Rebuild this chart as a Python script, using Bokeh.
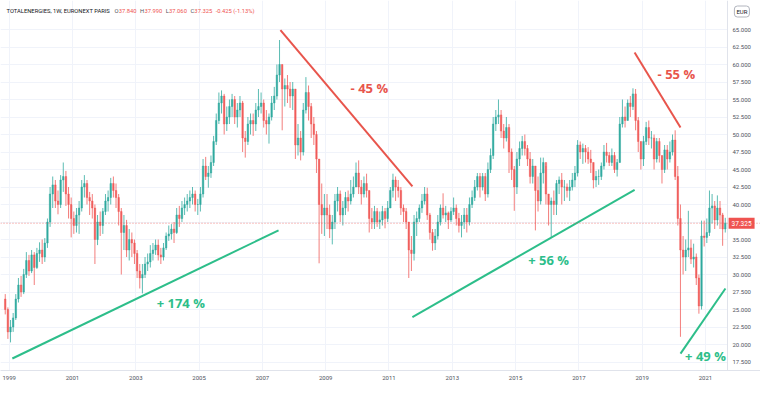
from bokeh.plotting import figure
from bokeh.models import ColumnDataSource, Range1d, FixedTicker, NumeralTickFormatter, Span, Label, BoxAnnotation
from bokeh.core.properties import value
from bokeh.embed import file_html
from bokeh.resources import INLINE

# ---------------- data (monthly candles) ----------------
first_year, first_month = 1998, 11
first_open = 26.5

close = [
    25.0, 21.8,                                                          # 1998 Nov-Dec
    22.5, 23.8, 26.5, 28.5, 27.5, 30.0, 32.0, 30.5, 32.8, 31.0, 33.0, 33.5,  # 1999
    32.5, 34.5, 37.5, 41.5, 42.8, 40.5, 40.0, 43.5, 44.0, 41.5, 40.0, 38.0,  # 2000
    37.0, 38.5, 39.5, 42.5, 43.0, 41.0, 40.5, 39.5, 35.0, 37.5, 37.0, 39.0,  # 2001
    40.5, 41.0, 43.0, 42.0, 41.0, 39.0, 36.0, 37.0, 33.5, 35.0, 34.5, 33.0,  # 2002
    30.5, 29.5, 30.0, 31.5, 31.8, 33.0, 33.5, 34.2, 32.8, 32.5, 33.8, 35.5,  # 2003
    35.8, 36.5, 36.0, 38.5, 38.0, 39.5, 40.0, 40.5, 41.0, 41.5, 40.0, 40.0,  # 2004
    41.5, 45.5, 44.0, 44.5, 46.0, 49.0, 52.0, 54.5, 55.5, 51.5, 52.5, 54.0,  # 2005
    55.0, 52.5, 53.5, 54.5, 49.5, 49.0, 51.5, 52.0, 51.5, 53.5, 54.0, 54.5,  # 2006
    52.0, 51.5, 52.5, 54.5, 55.5, 58.5, 60.0, 56.5, 57.0, 56.5, 55.5, 56.5,  # 2007
    48.5, 49.5, 47.5, 53.5, 56.0, 54.0, 51.5, 50.0, 46.5, 40.0, 38.5, 39.5,  # 2008
    38.5, 36.5, 37.5, 40.5, 41.5, 38.5, 39.5, 41.0, 40.5, 41.5, 42.5, 44.5,  # 2009
    42.5, 41.5, 43.0, 42.0, 38.0, 37.5, 39.0, 37.5, 37.8, 39.0, 38.0, 39.5,  # 2010
    42.0, 43.5, 42.5, 42.0, 39.5, 39.0, 37.5, 33.5, 33.0, 37.5, 38.0, 39.5,  # 2011
    40.5, 41.5, 38.5, 36.0, 34.5, 35.5, 37.5, 39.5, 38.5, 38.8, 37.8, 39.0,  # 2012
    39.5, 38.0, 37.0, 37.5, 38.5, 37.5, 40.0, 41.0, 42.5, 44.0, 42.5, 44.0,  # 2013
    41.5, 45.0, 47.0, 51.5, 52.5, 52.8, 50.5, 49.5, 51.0, 47.5, 45.0, 42.5,  # 2014
    46.5, 48.0, 49.0, 48.0, 46.5, 44.0, 45.5, 42.0, 40.5, 44.5, 46.0, 41.5,  # 2015
    40.0, 40.5, 40.0, 43.0, 43.5, 42.5, 42.5, 42.0, 42.5, 43.5, 44.5, 48.5,  # 2016
    47.5, 48.0, 47.5, 46.5, 46.0, 43.5, 44.0, 44.0, 45.5, 47.5, 47.0, 46.0,  # 2017
    47.0, 45.0, 46.0, 51.5, 52.5, 52.0, 54.5, 54.0, 55.8, 52.0, 49.0, 46.5,  # 2018
    49.0, 51.0, 49.5, 49.5, 46.5, 49.0, 47.0, 45.0, 47.8, 46.5, 47.5, 49.2,  # 2019
    44.0, 38.0, 33.5, 32.5, 33.5, 33.8, 32.2, 32.5, 29.5, 25.5, 35.5, 35.3,  # 2020
    36.0, 39.5, 39.8, 37.8, 39.5, 38.5, 36.5, 37.325,                    # 2021 Jan-Aug
]
high = [
    27.2, 25.3,
    23.5, 24.5, 27.2, 29.5, 29.8, 30.8, 33.2, 32.8, 33.5, 33.2, 33.8, 34.6,
    35.0, 35.2, 38.0, 42.5, 44.0, 43.5, 42.0, 44.2, 46.0, 44.8, 42.5, 41.0,
    39.0, 39.5, 40.5, 43.5, 44.2, 43.5, 41.8, 41.5, 40.0, 38.5, 39.0, 39.5,
    41.5, 42.0, 43.8, 44.0, 43.0, 41.5, 39.5, 38.5, 37.8, 36.5, 36.0, 35.0,
    33.5, 31.5, 31.5, 32.5, 33.0, 34.2, 34.5, 35.0, 35.0, 33.8, 34.5, 36.0,
    37.0, 37.2, 37.5, 39.5, 39.8, 40.5, 41.0, 41.5, 42.0, 42.5, 42.0, 40.8,
    42.5, 46.5, 46.8, 45.5, 47.0, 49.8, 53.0, 56.0, 56.3, 55.8, 54.0, 55.0,
    55.8, 55.5, 54.5, 55.5, 54.8, 50.5, 52.5, 53.0, 53.0, 54.5, 56.5, 56.0,
    55.0, 53.5, 53.0, 55.5, 56.8, 60.0, 63.5, 60.0, 58.0, 58.5, 57.5, 57.5,
    56.5, 51.5, 50.5, 54.5, 58.2, 57.0, 54.5, 52.5, 50.5, 46.5, 43.0, 41.5,
    41.5, 40.0, 38.5, 41.5, 42.5, 42.0, 40.5, 41.8, 42.0, 43.5, 44.0, 46.0,
    46.3, 43.5, 44.0, 44.4, 42.0, 39.5, 39.8, 39.5, 39.0, 39.8, 39.5, 40.5,
    42.5, 44.4, 44.0, 43.5, 42.5, 40.0, 39.5, 37.5, 35.5, 38.5, 39.0, 40.0,
    41.5, 42.5, 42.4, 38.8, 36.5, 36.5, 38.5, 40.0, 41.6, 39.8, 39.0, 39.6,
    41.0, 40.0, 38.8, 38.5, 39.5, 39.5, 41.0, 42.0, 43.5, 44.5, 44.5, 44.5,
    44.5, 46.0, 48.0, 52.5, 53.5, 55.0, 53.5, 51.5, 52.5, 51.5, 48.0, 45.5,
    47.5, 49.0, 49.8, 50.0, 48.5, 47.5, 46.5, 45.5, 44.0, 46.7, 46.7, 45.5,
    41.5, 41.0, 42.0, 43.5, 44.0, 44.5, 43.5, 43.0, 43.5, 44.5, 45.5, 49.2,
    49.0, 48.7, 48.5, 48.2, 47.8, 46.0, 44.8, 45.0, 46.0, 48.5, 48.8, 47.5,
    48.0, 47.5, 46.5, 52.5, 55.0, 54.0, 55.0, 55.5, 56.6, 56.5, 52.5, 49.0,
    49.8, 51.8, 52.0, 50.5, 50.0, 49.5, 49.5, 47.0, 48.5, 48.5, 49.0, 50.0,
    50.6, 45.5, 40.0, 35.5, 35.0, 39.1, 35.0, 34.4, 33.0, 30.0, 37.7, 37.7,
    38.0, 42.0, 41.5, 40.5, 41.3, 40.5, 38.8, 38.1,
]
low = [
    24.3, 20.8,
    20.3, 21.8, 23.5, 26.0, 26.8, 27.2, 29.5, 29.8, 30.2, 28.5, 30.8, 31.8,
    31.5, 31.8, 33.8, 36.8, 39.5, 39.5, 38.6, 39.5, 41.8, 39.8, 38.0, 35.3,
    35.8, 36.0, 35.8, 39.0, 41.0, 40.0, 38.5, 38.0, 31.5, 34.2, 35.5, 35.8,
    38.5, 39.0, 40.0, 41.0, 39.5, 37.0, 30.0, 33.5, 32.5, 32.0, 32.5, 31.5,
    29.5, 28.0, 27.3, 29.5, 30.5, 31.0, 32.0, 32.8, 32.0, 31.5, 32.0, 33.5,
    34.8, 35.0, 34.5, 35.8, 36.8, 37.5, 38.5, 39.0, 39.5, 40.0, 39.0, 38.5,
    39.0, 41.0, 43.5, 42.4, 43.8, 45.5, 48.5, 51.5, 53.0, 50.0, 50.5, 51.5,
    52.5, 51.5, 51.0, 52.5, 47.5, 46.7, 48.5, 50.0, 49.8, 50.5, 52.5, 53.0,
    51.0, 50.0, 48.7, 52.0, 53.5, 55.0, 57.5, 50.6, 54.0, 54.5, 53.8, 53.5,
    46.5, 47.0, 46.3, 47.0, 53.0, 52.0, 49.5, 48.5, 44.5, 31.6, 35.8, 35.5,
    36.5, 35.2, 34.3, 36.5, 39.0, 37.5, 37.0, 38.5, 39.0, 40.0, 41.0, 42.5,
    41.5, 40.0, 41.0, 41.0, 36.0, 36.5, 36.5, 36.8, 36.5, 37.0, 36.6, 37.5,
    39.5, 41.0, 40.5, 41.0, 38.5, 37.5, 36.5, 29.5, 30.5, 32.0, 35.5, 37.5,
    38.8, 40.0, 37.8, 35.0, 33.4, 33.5, 35.0, 37.0, 38.0, 37.5, 36.5, 37.5,
    38.5, 37.0, 36.0, 35.3, 36.5, 36.0, 37.0, 39.5, 40.5, 42.0, 41.0, 42.0,
    40.5, 41.0, 44.5, 46.5, 50.5, 51.5, 49.5, 48.0, 49.0, 44.5, 43.5, 39.1,
    41.5, 45.5, 47.0, 47.0, 45.5, 43.0, 43.0, 36.3, 39.0, 40.0, 43.0, 40.0,
    37.0, 35.3, 38.5, 38.5, 41.5, 40.0, 40.5, 41.0, 40.5, 42.0, 42.5, 44.0,
    46.5, 45.8, 46.0, 45.8, 44.5, 42.3, 42.5, 42.8, 43.5, 45.0, 46.0, 45.5,
    45.5, 44.5, 44.0, 46.0, 51.0, 51.0, 52.0, 52.5, 53.5, 50.6, 47.5, 45.0,
    45.5, 48.5, 48.5, 48.0, 45.0, 46.0, 46.0, 43.0, 44.5, 45.0, 46.0, 47.0,
    43.5, 37.0, 21.1, 30.0, 30.5, 32.5, 31.5, 31.0, 28.5, 24.4, 25.0, 34.0,
    34.5, 35.5, 37.3, 36.5, 37.0, 36.5, 34.1, 36.0,
]

year_ticks = [1999, 2001, 2003, 2005, 2007, 2009, 2011, 2013, 2015, 2017, 2019, 2021]
price_ticks = [17.5, 20.0, 22.5, 25.0, 27.5, 30.0, 32.5, 35.0, 37.5, 40.0, 42.5,
               45.0, 47.5, 50.0, 52.5, 55.0, 57.5, 60.0, 62.5, 65.0]

# trend-line drawings (decimal year, price)
trend_x0 = [1999.10, 2007.57, 2011.74, 2018.76, 2020.21]
trend_y0 = [18.0, 64.9, 23.9, 61.7, 18.7]
trend_x1 = [2007.51, 2011.74, 2018.76, 2020.21, 2021.63]
trend_y1 = [36.3, 42.6, 42.1, 51.0, 28.0]
trend_kind = ["up", "down", "up", "down", "up"]

note_text = ["+ 174 %", "- 45 %", "+ 56 %", "- 55 %", "+ 49 %"]
note_x = [2004.42, 2010.38, 2016.04, 2020.08, 2021.00]
note_y = [25.9, 56.6, 32.1, 58.6, 18.3]
note_kind = ["up", "down", "up", "down", "up"]

last_price = 37.325
header_parts = [("TOTALENERGIES, 1W, EURONEXT PARIS", "#131722"), ("O", "#50535e"), ("37.840", "#ef5350"),
                ("H", "#50535e"), ("37.990", "#ef5350"), ("L", "#50535e"), ("37.060", "#ef5350"),
                ("C", "#50535e"), ("37.325", "#ef5350"), ("-0.425 (-1.13%)", "#ef5350")]

# ---------------- layout constants ----------------
X_START, X_END = 1998.7251, 2022.7378      # full canvas width; price scale starts at X_SCALE
X_SCALE = 2021.6951
Y_START, Y_END = 16.286, 69.143

UP, DOWN = "#26a69a", "#ef5350"
LINE_UP, LINE_DOWN = "#2dbe8a", "#e8554c"
GRID = "#f0f3fa"
BORDER = "#e0e3eb"

n = len(close)
t = [first_year + (first_month - 1 + i + 0.5) / 12.0 for i in range(n)]
opens = [first_open] + close[:-1]
colors = [UP if c >= o else DOWN for o, c in zip(opens, close)]
tops = [max(o, c) for o, c in zip(opens, close)]
bots = [min(o, c) for o, c in zip(opens, close)]

src = ColumnDataSource(dict(t=t, high=high, low=low, top=tops, bottom=bots, color=colors))

p = figure(width=760, height=395, x_range=Range1d(X_START, X_END), y_range=Range1d(Y_START, Y_END),
           y_axis_location="right", output_backend="svg", toolbar_location=None,
           min_border_left=0, min_border_top=0, min_border_right=0, min_border_bottom=25,
           background_fill_color="white", border_fill_color="white", outline_line_color=None)

p.xgrid.grid_line_color = GRID
p.ygrid.grid_line_color = GRID

p.xaxis.ticker = FixedTicker(ticks=year_ticks)
p.yaxis.ticker = FixedTicker(ticks=price_ticks)
p.yaxis.formatter = NumeralTickFormatter(format="0.000")
p.yaxis.fixed_location = X_SCALE
for ax in (p.xaxis[0], p.yaxis[0]):
    ax.axis_line_color = BORDER
    ax.major_tick_line_color = None
    ax.minor_tick_line_color = None
    ax.major_tick_out = 0
    ax.major_tick_in = 0
    ax.minor_tick_out = 0
    ax.major_label_text_font = "Roboto"
    ax.major_label_text_font_size = "6px"
    ax.major_label_text_color = "#50535e"
p.yaxis.major_label_standoff = 5
p.xaxis.major_label_standoff = 5

# blank price-scale strip (hides grid behind the price labels)
p.add_layout(BoxAnnotation(left=X_SCALE, fill_color="white", fill_alpha=1.0, line_color=None, level="underlay"))

p.add_layout(Span(location=last_price, dimension="width", line_color=DOWN, line_dash="1 2",
                  line_width=1, line_alpha=0.7))

p.segment(x0="t", y0="low", x1="t", y1="high", color="color", line_width=1, alpha=0.75, source=src)
p.vbar(x="t", width=0.6 / 12, top="top", bottom="bottom", fill_color="color", line_color="color",
       line_width=0.5, alpha=0.8, source=src)

tsrc = ColumnDataSource(dict(x0=trend_x0, y0=trend_y0, x1=trend_x1, y1=trend_y1,
                             color=[LINE_UP if k == "up" else LINE_DOWN for k in trend_kind]))
p.segment(x0="x0", y0="y0", x1="x1", y1="y1", color="color", line_width=2, source=tsrc)

nsrc = ColumnDataSource(dict(x=note_x, y=note_y, text=note_text,
                             color=[LINE_UP if k == "up" else LINE_DOWN for k in note_kind]))
p.text(x="x", y="y", text="text", text_color="color", text_align="center", text_baseline="middle",
       text_font=value("Open Sans"), text_font_style="bold", text_font_size="13px", source=nsrc)

# header legend line (Roboto advance widths, em)
ROBOTO_W = {"0": .562, "1": .562, "2": .562, "3": .562, "4": .562, "5": .562, "6": .562, "7": .562,
            "8": .562, "9": .562, ".": .263, ",": .196, " ": .248, "(": .342, ")": .348, "-": .276,
            "%": .733, "O": .688, "H": .713, "L": .538, "C": .652, "T": .598, "A": .652, "E": .568,
            "N": .713, "R": .616, "G": .682, "I": .272, "S": .593, "W": .887, "U": .648, "X": .628,
            "P": .631}
HEAD_SIZE = 5.8

def text_width(s):
    return sum(ROBOTO_W.get(ch, 0.62) for ch in s) * HEAD_SIZE

hx = 6.0
for txt, col in header_parts:
    p.add_layout(Label(x=hx, y=360, x_units="screen", y_units="screen", text=txt, text_color=col,
                       text_font="Roboto", text_font_size=f"{HEAD_SIZE}px", text_baseline="middle",
                       text_align="left"))
    gap = 0.2 if txt in ("O", "H", "L", "C") else 3.5
    hx += text_width(txt) + gap

# currency box and last price tag on the price scale
p.add_layout(Label(x=2022.15, y=67.57, text="EUR", text_color="#131722", level="overlay",
                   text_font="Roboto", text_font_size="6px", text_baseline="middle", text_align="center",
                   background_fill_color="white", border_line_color="#b2b5be", border_line_width=1,
                   padding=2, border_radius=3))
p.add_layout(Label(x=2021.73, y=last_price, text="37.325", text_color="white", level="overlay",
                   text_font="Roboto", text_font_size="6.5px", text_baseline="middle", text_align="left",
                   background_fill_color=DOWN, padding=3))

open("out.html", "w").write(file_html(p, INLINE))
